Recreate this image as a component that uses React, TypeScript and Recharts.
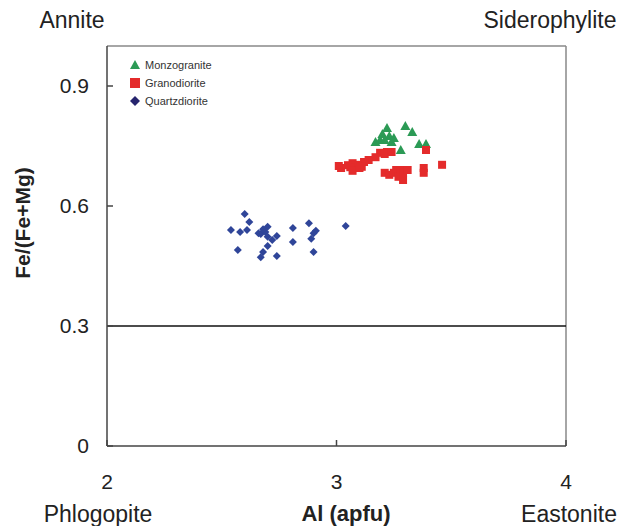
import { ScatterChart, Scatter, XAxis, YAxis, ReferenceLine, Legend } from "recharts";

const monzoAl = [3.3, 3.33, 3.22, 3.2, 3.17, 3.19, 3.23, 3.24, 3.28, 3.36, 3.39, 3.21, 3.25];
const monzoFe = [0.8, 0.785, 0.795, 0.78, 0.76, 0.765, 0.775, 0.76, 0.74, 0.755, 0.755, 0.765, 0.77];

const granoAl = [3.39, 3.19, 3.22, 3.21, 3.17, 3.14, 3.12, 3.09, 3.07, 3.06, 3.05, 3.02, 3.01, 3.07, 3.11, 3.21, 3.23, 3.25, 3.26, 3.27, 3.28, 3.29, 3.29, 3.31, 3.38, 3.38, 3.46, 3.24, 3.1];
const granoFe = [0.74, 0.733, 0.735, 0.73, 0.722, 0.715, 0.71, 0.703, 0.707, 0.697, 0.702, 0.695, 0.7, 0.688, 0.698, 0.683, 0.678, 0.683, 0.69, 0.673, 0.69, 0.683, 0.665, 0.69, 0.695, 0.683, 0.703, 0.735, 0.695];

const quartzAl = [2.6, 2.62, 2.54, 2.58, 2.61, 2.67, 2.69, 2.7, 2.7, 2.72, 2.74, 2.7, 2.68, 2.67, 2.74, 2.57, 2.81, 2.81, 2.88, 2.91, 2.9, 2.89, 2.9, 3.04, 2.66, 2.68];
const quartzFe = [0.58, 0.56, 0.54, 0.535, 0.54, 0.53, 0.535, 0.548, 0.523, 0.515, 0.525, 0.5, 0.485, 0.472, 0.475, 0.49, 0.545, 0.51, 0.557, 0.538, 0.532, 0.518, 0.485, 0.55, 0.532, 0.542];

const xTicks = [2, 3, 4];
const yTicks = [0, 0.3, 0.6, 0.9];

const GREEN = "#2b9a55";
const RED = "#e42b2b";
const BLUE = "#2f4599";
const FONT = '"Liberation Sans", Arial, sans-serif';

const toPoints = (al: number[], fe: number[]) => al.map((a, i) => ({ al: a, fe: fe[i] }));

const Triangle = ({ cx, cy }: any) => (
  <polygon points={`${cx},${cy - 5} ${cx + 5},${cy + 4} ${cx - 5},${cy + 4}`} fill={GREEN} />
);
const Square = ({ cx, cy }: any) => <rect x={cx - 4} y={cy - 4} width={8} height={8} fill={RED} />;
const Diamond = ({ cx, cy }: any) => (
  <polygon points={`${cx},${cy - 4} ${cx + 4},${cy} ${cx},${cy + 4} ${cx - 4},${cy}`} fill={BLUE} />
);

const legendItems = [
  { name: "Monzogranite", icon: <polygon points="5,0 10,9 0,9" fill={GREEN} /> },
  { name: "Granodiorite", icon: <rect x={0} y={0} width={10} height={10} fill={RED} /> },
  { name: "Quartzdiorite", icon: <polygon points="5,0 10,5 5,10 0,5" fill="#26246e" /> },
];

const LegendBox = () => (
  <div style={{ fontFamily: FONT, fontSize: 11, color: "#333" }}>
    {legendItems.map((it) => (
      <div key={it.name} style={{ display: "flex", alignItems: "center", height: 18 }}>
        <svg width={10} height={10} style={{ marginRight: 5 }}>
          {it.icon}
        </svg>
        {it.name}
      </div>
    ))}
  </div>
);

const label = (text: string, x: number, y: number, extra: any = {}) => (
  <div
    style={{
      position: "absolute",
      left: x,
      top: y,
      transform: "translate(-50%, -50%)",
      whiteSpace: "nowrap",
      fontSize: 23,
      color: "#222",
      ...extra,
    }}
  >
    {text}
  </div>
);

export default function App() {
  return (
    <div style={{ position: "absolute", left: 0, top: 0, width: 622, height: 526, fontFamily: FONT, background: "#fff" }}>
      <ScatterChart width={622} height={526} margin={{ top: 46, right: 56, bottom: 0, left: 0 }}>
        <XAxis
          type="number"
          dataKey="al"
          domain={[2, 4]}
          ticks={xTicks}
          height={80}
          tickSize={-6}
          tickMargin={34}
          stroke="#444"
          strokeWidth={1.5}
          tick={{ fill: "#222", fontSize: 21, fontFamily: FONT }}
        />
        <YAxis
          type="number"
          dataKey="fe"
          domain={[0, 1]}
          ticks={yTicks}
          width={107}
          tickSize={-6}
          tickMargin={24}
          stroke="#444"
          strokeWidth={1.5}
          tick={{ fill: "#222", fontSize: 21, fontFamily: FONT }}
        />
        <ReferenceLine y={1} stroke="#888" strokeWidth={1.5} />
        <ReferenceLine x={4} stroke="#888" strokeWidth={1.5} />
        <ReferenceLine y={0.3} stroke="#111" strokeWidth={1.5} />
        <Legend
          layout="vertical"
          align="center"
          verticalAlign="middle"
          wrapperStyle={{ left: 130, top: 56, width: 120 }}
          content={<LegendBox />}
        />
        <Scatter name="Monzogranite" data={toPoints(monzoAl, monzoFe)} shape={<Triangle />} isAnimationActive={false} />
        <Scatter name="Granodiorite" data={toPoints(granoAl, granoFe)} shape={<Square />} isAnimationActive={false} />
        <Scatter name="Quartzdiorite" data={toPoints(quartzAl, quartzFe)} shape={<Diamond />} isAnimationActive={false} />
      </ScatterChart>
      {label("Annite", 72, 20)}
      {label("Siderophylite", 550, 20)}
      {label("Phlogopite", 98, 514)}
      {label("Al (apfu)", 346, 514, { fontWeight: "bold", fontSize: 22 })}
      {label("Eastonite", 569, 514)}
      {label("Fe/(Fe+Mg)", 23, 223, { fontWeight: "bold", fontSize: 21, transform: "translate(-50%, -50%) rotate(-90deg)" })}
    </div>
  );
}
